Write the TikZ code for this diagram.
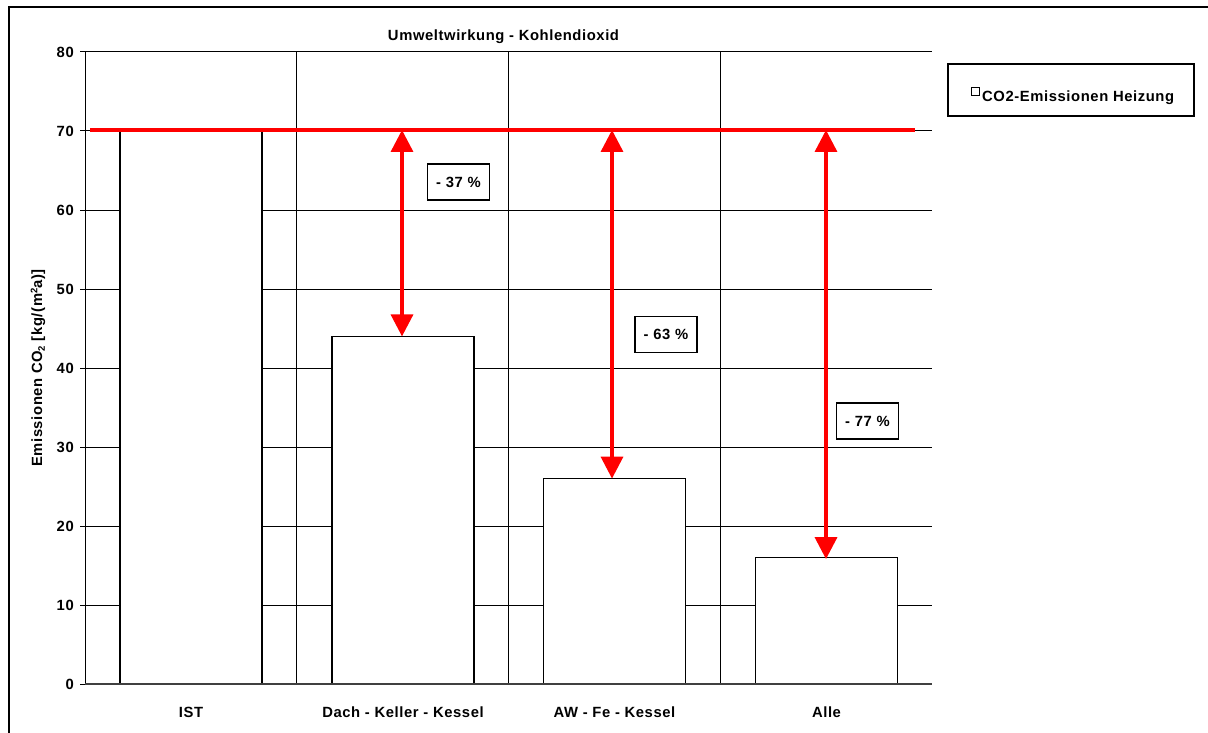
\documentclass[tikz,border=0pt]{standalone}
\usepackage{fontspec}
\setmainfont{Liberation Sans}[LetterSpace=4]
\usetikzlibrary{arrows.meta}
\definecolor{arrred}{RGB}{255,0,0}
\begin{document}
\begin{tikzpicture}[x=1pt,y=-1pt,
  txt/.style={font=\bfseries\fontsize{14.8}{17}\selectfont, inner sep=0pt},
  ticklbl/.style={txt, anchor=east},
  barbox/.style={draw=black, line width=1.2pt, fill=white, outer sep=0pt, inner sep=0pt, minimum width=142pt, anchor=south},
  gridline/.style={line width=1pt, draw=black},
  redarrow/.style={draw=arrred, line width=3.5pt, {Triangle[length=22pt,width=22pt]}-{Triangle[length=22pt,width=22pt]}},
  pct/.style={txt, draw=black, line width=1.2pt, minimum width=62pt, minimum height=36pt, fill=white}
]
\useasboundingbox (0,0) rectangle (1208,733);
\clip (0,0) rectangle (1208,733);
% outer frame
\draw[line width=2pt] (9,7.5) rectangle (1230,760);
% title
\node[txt] (title) at (503.5,37) {Umweltwirkung - Kohlendioxid};
% horizontal grid
\foreach \v/\yy in {10/605,20/526,30/447,40/368,50/289,60/210,70/131,80/52}{
  \draw[gridline] (80,\yy) -- (932,\yy);
}
\draw[gridline] (80,684) -- (85,684);
% vertical separators
\foreach \xx in {296,508,720}{
  \draw[gridline] (\xx,52) -- (\xx,684);
}
% y axis
\draw[gridline] (85,52) -- (85,684);
% tick labels
\foreach \v/\yy in {0/684,10/605,20/526,30/447,40/368,50/289,60/210,70/131,80/52}{
  \node[ticklbl] (t\v) at (74,\yy) {\v};
}
% bars
\node[barbox, minimum height=553pt] (ist) at (191,684) {};
\node[barbox, minimum height=347.6pt] (dach) at (403,684) {};
\node[barbox, minimum height=205.4pt] (aw) at (614.5,684) {};
\node[barbox, minimum height=126.4pt] (alle) at (826.5,684) {};
% x axis
\draw[line width=1.6pt, draw=black!75] (85,684) -- (932,684);
% category labels
\node[txt] (cist) at (191,712) {IST};
\node[txt] (cdach) at (403,712) {Dach - Keller - Kessel};
\node[txt] (caw) at (614.5,712) {AW - Fe - Kessel};
\node[txt] (calle) at (826.5,712) {Alle};
% y label
\node[txt, rotate=90] (ylab) at (38,368) {Emissionen CO\raisebox{-0.35ex}{\fontsize{9.5}{10}\selectfont 2} [kg/(m\raisebox{0.6ex}{\fontsize{9.5}{10}\selectfont 2}a)]};
% red reference line
\coordinate (rl) at (90,130);
\coordinate (rr) at (915,130);
\draw[arrred, line width=4pt] (rl) -- (rr);
% arrows
\coordinate (a1) at (402,130);
\coordinate (a2) at (612,130);
\coordinate (a3) at (826,130);
\draw[redarrow] (a1) -- (a1 |- dach.north);
\draw[redarrow] (a2) -- (a2 |- aw.north);
\draw[redarrow] (a3) -- ([yshift=-1.5pt]a3 |- alle.north);
% percentage labels
\node[pct] (p1) at (458.5,182) {- 37 \%};
\node[pct] (p2) at (666,334.5) {- 63 \%};
\node[pct] (p3) at (867.5,421) {- 77 \%};
% legend
\node[draw=black, line width=1.2pt, minimum width=246pt, minimum height=52pt, inner sep=0pt] (legend) at (1071,90) {};
\node[draw=black, line width=0.8pt, minimum size=8pt, inner sep=0pt] (legsq) at (975.5,91) {};
\node[txt, anchor=base west] (legtxt) at (982,102) {CO2-Emissionen Heizung};
\end{tikzpicture}
\end{document}
